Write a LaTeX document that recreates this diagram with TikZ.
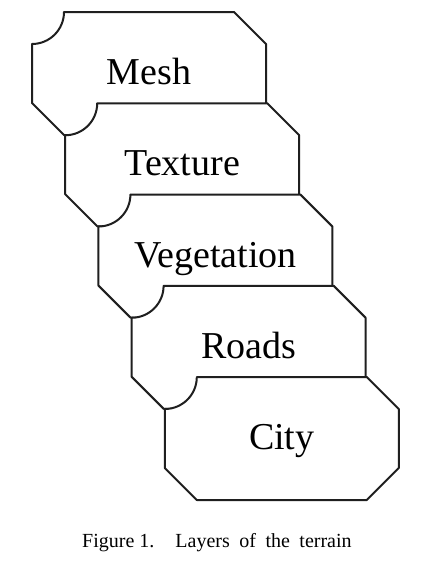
\documentclass[tikz,border=0pt]{standalone}
\usepackage{fontspec}
\setmainfont{Liberation Serif}
\begin{document}
\begin{tikzpicture}[x=1pt,y=1pt,
  layer/.style={draw=black!88, fill=white, line width=2pt, line join=round},
  layertext/.style={font=\fontsize{38}{40}\selectfont, anchor=base, inner sep=0pt},
  captext/.style={font=\fontsize{20}{22}\selectfont, anchor=base west, inner sep=0pt}]
\useasboundingbox (0,0) rectangle (422,-565);
\def\W{234}\def\H{123}\def\c{32}
\foreach \nm/\txt [count=\i from 0] in {mesh/Mesh,texture/Texture,vegetation/Vegetation,roads/Roads,city/City}{
  \pgfmathsetmacro\L{32+33.2*\i}
  \pgfmathsetmacro\T{12+91.25*\i}
  \draw[layer] ({\L+\c},{-\T}) -- ({\L+\W-\c},{-\T}) -- ({\L+\W},{-\T-\c})
    -- ({\L+\W},{-\T-\H+\c}) -- ({\L+\W-\c},{-\T-\H}) -- ({\L+\c},{-\T-\H})
    -- ({\L},{-\T-\H+\c}) -- ({\L},{-\T-\c})
    arc[start angle=270,end angle=360,radius=\c pt] -- cycle;
  \node[layertext] (\nm) at ({\L+\W/2},{-\T-72.5}) {\txt};
}
\node[captext] (cap) at (82,-547) {Figure 1.\hspace{21pt}Layers\hspace{9.5pt}of\hspace{9.5pt}the\hspace{9.5pt}terrain};
\end{tikzpicture}
\end{document}
